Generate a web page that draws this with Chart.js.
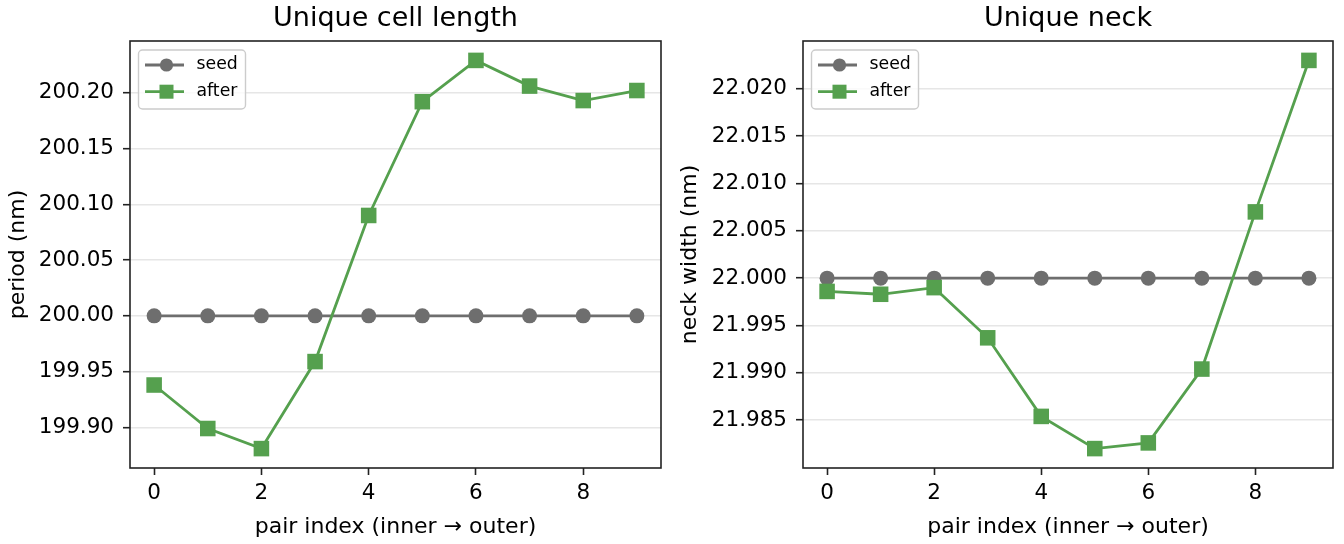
<!DOCTYPE html>
<html>
<head>
<meta charset="utf-8">
<title>Unique cell length / Unique neck</title>
<script src="https://cdn.jsdelivr.net/npm/chart.js@4.4.1/dist/chart.umd.min.js"></script>
<style>
  html, body { margin: 0; padding: 0; background: #fff; }
  #wrap { position: relative; width: 1344px; height: 544px; overflow: hidden; }
  .panel { position: absolute; top: 0; width: 672px; height: 544px; }
</style>
</head>
<body>
<div id="wrap">
  <div class="panel" style="left:0"><canvas id="cellChart" width="672" height="544"></canvas></div>
  <div class="panel" style="left:672px"><canvas id="neckChart" width="672" height="544"></canvas></div>
</div>
<script>
// Values
const pairIndex = [0, 1, 2, 3, 4, 5, 6, 7, 8, 9];
const xTicks = [0, 2, 4, 6, 8];

const cellSeed = [200, 200, 200, 200, 200, 200, 200, 200, 200, 200];
const cellAfter = [199.938, 199.899, 199.881, 199.959, 200.090, 200.192, 200.229, 200.206, 200.193, 200.202];
const cellTicks = [199.90, 199.95, 200.00, 200.05, 200.10, 200.15, 200.20];

const neckSeed = [22, 22, 22, 22, 22, 22, 22, 22, 22, 22];
const neckAfter = [21.9986, 21.9983, 21.9990, 21.9937, 21.9854, 21.9820, 21.9826, 21.9904, 22.0070, 22.0230];
const neckTicks = [21.985, 21.990, 21.995, 22.000, 22.005, 22.010, 22.015, 22.020];

const SEED_COLOR = '#6e6e6e';
const AFTER_COLOR = '#55a04e';
const AXIS_COLOR = '#222222';
const GRID_COLOR = '#e6e6e6';

Chart.defaults.font.family = "'DejaVu Sans', 'Liberation Sans', sans-serif";
Chart.defaults.color = '#000';

// matplotlib-like axes frame (all four sides)
const framePlugin = {
    id: 'axesFrame',
    afterDraw(chart) {
        const { ctx, chartArea: a } = chart;
        ctx.save();
        ctx.strokeStyle = AXIS_COLOR;
        ctx.lineWidth = 1.6;
        ctx.strokeRect(a.left, a.top, a.right - a.left, a.bottom - a.top);
        ctx.restore();
    }
};

// legend with line + marker handles, upper left inside the axes
const legendPlugin = {
    id: 'mplLegend',
    afterDraw(chart) {
        const { ctx, chartArea: a } = chart;
        const x = a.left + 8.5;
        const y = a.top + 9;
        const w = 107;
        const h = 59;

        ctx.save();
        ctx.beginPath();
        ctx.roundRect(x, y, w, h, 4);
        ctx.fillStyle = 'rgba(255,255,255,0.8)';
        ctx.fill();
        ctx.strokeStyle = '#cccccc';
        ctx.lineWidth = 1.4;
        ctx.stroke();

        chart.data.datasets.forEach((ds, i) => {
            const cy = y + 15 + i * 26.7;
            ctx.strokeStyle = ds.borderColor;
            ctx.lineWidth = ds.borderWidth;
            ctx.beginPath();
            ctx.moveTo(x + 6.5, cy);
            ctx.lineTo(x + 45.5, cy);
            ctx.stroke();

            ctx.fillStyle = ds.borderColor;
            const mx = x + 28;
            if (ds.pointStyle === 'rect') {
                ctx.fillRect(mx - 7, cy - 7, 14, 14);
            } else {
                ctx.beginPath();
                ctx.arc(mx, cy, 6.6, 0, Math.PI * 2);
                ctx.fill();
            }

            ctx.fillStyle = '#000';
            ctx.font = "17.3px 'DejaVu Sans'";
            ctx.textBaseline = 'middle';
            ctx.textAlign = 'left';
            ctx.fillText(ds.label, x + 58, cy);
        });
        ctx.restore();
    }
};

function toPoints(ys) {
    return pairIndex.map((x, i) => ({ x: x, y: ys[i] }));
}

function buildChart(canvasId, title, yLabel, seed, after, yTicks, decimals, rightPad, yAxisWidth) {
    const all = seed.concat(after);
    const lo = Math.min(...all);
    const hi = Math.max(...all);
    const margin = (hi - lo) * 0.05;

    const config = {
        type: 'line',
        data: {
            datasets: [
                {
                    label: 'seed',
                    data: toPoints(seed),
                    borderColor: SEED_COLOR,
                    backgroundColor: SEED_COLOR,
                    borderWidth: 2.8,
                    pointStyle: 'circle',
                    pointRadius: 7.5,
                    pointHoverRadius: 7.5,
                    pointBorderWidth: 0,
                    tension: 0,
                    order: 1
                },
                {
                    label: 'after',
                    data: toPoints(after),
                    borderColor: AFTER_COLOR,
                    backgroundColor: AFTER_COLOR,
                    borderWidth: 2.8,
                    pointStyle: 'rect',
                    pointRadius: 11,
                    pointHoverRadius: 11,
                    pointBorderWidth: 0,
                    tension: 0,
                    order: 0
                }
            ]
        },
        options: {
            responsive: false,
            animation: false,
            events: [],
            layout: {
                padding: { left: 0, right: rightPad, top: 0, bottom: 0 }
            },
            plugins: {
                legend: { display: false },
                tooltip: { enabled: false },
                title: {
                    display: true,
                    text: title,
                    fullSize: false,
                    color: '#000',
                    font: { size: 27, weight: 'normal' },
                    padding: { top: 2.5, bottom: 6.1 }
                }
            },
            scales: {
                x: {
                    type: 'linear',
                    min: pairIndex[0] - 0.45,
                    max: pairIndex[pairIndex.length - 1] + 0.45,
                    afterBuildTicks: (scale) => {
                        scale.ticks = xTicks.map(v => ({ value: v }));
                    },
                    afterFit: (scale) => {
                        scale.height = 76;
                    },
                    ticks: {
                        autoSkip: false,
                        maxRotation: 0,
                        padding: 6,
                        color: '#000',
                        font: { size: 21.5 },
                        callback: (v) => String(v)
                    },
                    grid: {
                        drawOnChartArea: false,
                        drawTicks: true,
                        tickLength: 7,
                        tickWidth: 1.6,
                        tickColor: AXIS_COLOR
                    },
                    border: { display: false },
                    title: {
                        display: true,
                        text: 'pair index (inner \u2192 outer)',
                        color: '#000',
                        font: { size: 22 },
                        padding: { top: 0, bottom: 3.8 }
                    }
                },
                y: {
                    type: 'linear',
                    min: lo - margin,
                    max: hi + margin,
                    afterBuildTicks: (scale) => {
                        scale.ticks = yTicks.map(v => ({ value: v }));
                    },
                    afterFit: (scale) => {
                        scale.width = yAxisWidth;
                    },
                    ticks: {
                        autoSkip: false,
                        padding: 9,
                        color: '#000',
                        font: { size: 21.5 },
                        callback: (v) => Number(v).toFixed(decimals)
                    },
                    grid: {
                        color: GRID_COLOR,
                        lineWidth: 1.4,
                        drawTicks: true,
                        tickLength: 7,
                        tickWidth: 1.6,
                        tickColor: AXIS_COLOR
                    },
                    border: { display: false },
                    title: {
                        display: true,
                        text: yLabel,
                        color: '#000',
                        font: { size: 22 },
                        padding: { top: 4.8, bottom: 0 }
                    }
                }
            }
        },
        plugins: [framePlugin, legendPlugin]
    };

    const ctx = document.getElementById(canvasId).getContext('2d');
    return new Chart(ctx, config);
}

buildChart('cellChart', 'Unique cell length', 'period (nm)', cellSeed, cellAfter, cellTicks, 2, 7, 130);
buildChart('neckChart', 'Unique neck', 'neck width (nm)', neckSeed, neckAfter, neckTicks, 3, 9, 131);
</script>
</body>
</html>
